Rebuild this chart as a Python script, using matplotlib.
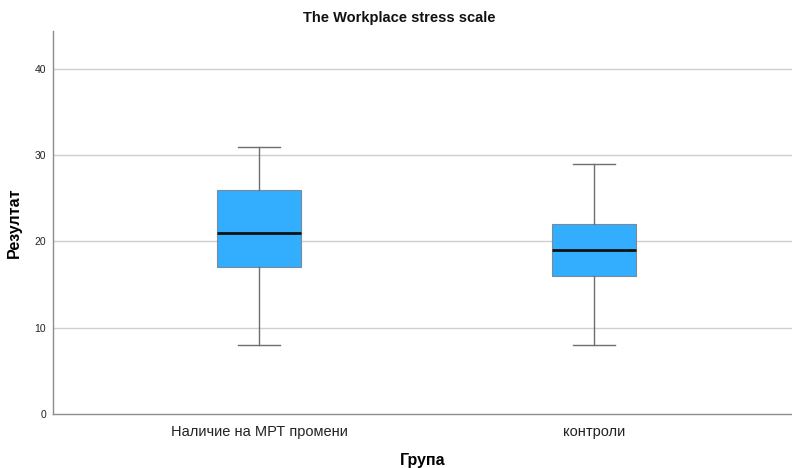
import matplotlib
matplotlib.use("Agg")
import matplotlib.pyplot as plt

plt.rcParams['font.family'] = ['Liberation Sans', 'DejaVu Sans']

# Five-number summaries per group
groups = ["Наличие на МРТ промени", "контроли"]
whisker_low = [8, 8]
q1 = [17, 16]
median = [21, 19]
q3 = [26, 22]
whisker_high = [31, 29]
y_ticks = [0, 10, 20, 30, 40]

stats = []
for g, lo, a, m, b, hi in zip(groups, whisker_low, q1, median, q3, whisker_high):
    stats.append(dict(label=g, whislo=lo, q1=a, med=m, q3=b, whishi=hi, fliers=[]))

fig = plt.figure(figsize=(7.92, 4.68), dpi=100)
ax = fig.add_axes([0.0669, 0.1154, 0.9331, 0.8184])

for y in y_ticks[1:]:
    ax.axhline(y, color="#cfcfcf", linewidth=1.0, zorder=0)

ax.bxp(stats, positions=[1, 2], widths=0.248, patch_artist=True,
       showfliers=False,
       boxprops=dict(facecolor="#33adfd", edgecolor="#7a8a99", linewidth=0.8),
       medianprops=dict(color="#111111", linewidth=2.0),
       whiskerprops=dict(color="#6e6e6e", linewidth=1.0),
       capprops=dict(color="#6e6e6e", linewidth=1.0),
       capwidths=0.125, zorder=3)

ax.set_xlim(0.385, 2.591)
ax.set_ylim(0, 44.4)
ax.set_yticks(y_ticks)
ax.tick_params(axis="y", length=0, labelsize=7.5, pad=5, colors="#222222")
ax.tick_params(axis="x", length=0, labelsize=10.5, pad=8, colors="#222222")
ax.set_xticks([1, 2])
ax.set_xticklabels(groups)

for s in ["top", "right"]:
    ax.spines[s].set_visible(False)
for s in ["left", "bottom"]:
    ax.spines[s].set_color("#8c8c8c")
    ax.spines[s].set_linewidth(1.0)

fig.text(0.504, 1 - 18 / 468, "The Workplace stress scale", fontsize=10.5,
         fontweight="bold", ha="center", va="center", color="#111111")

ax.set_ylabel("Резултат", fontsize=11.5, fontweight="bold", va="center")
ax.yaxis.set_label_coords(-0.052, 0.5)
ax.set_xlabel("Група", fontsize=11.5, fontweight="bold", va="center")
ax.xaxis.set_label_coords(0.5, -47 / 383)

fig.savefig("out.png", dpi=100)
